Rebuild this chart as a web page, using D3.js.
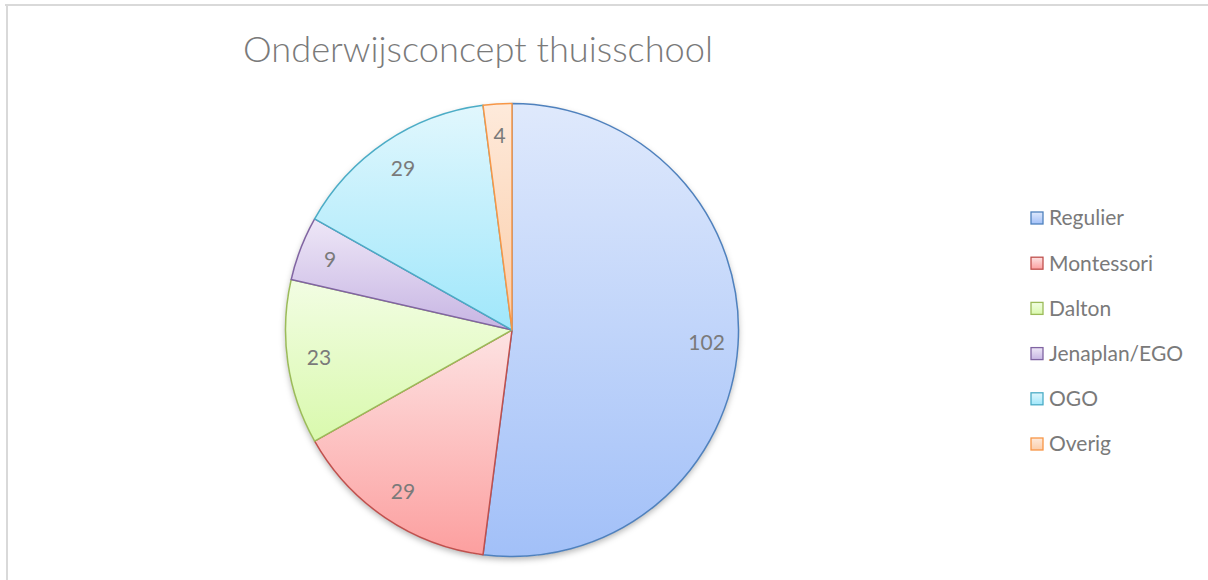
<!doctype html>
<html lang="nl">
<head>
<meta charset="utf-8" />
<title>Onderwijsconcept thuisschool</title>
<script src="https://cdn.jsdelivr.net/npm/d3@7"></script>
<style>
	html, body { margin: 0; padding: 0; background: #fff; }
	svg { display: block; font-family: Lato, "Open Sans", sans-serif; }
</style>
</head>
<body>
<div id="chart"></div>
<script>
	const categories = ["Regulier", "Montessori", "Dalton", "Jenaplan/EGO", "OGO", "Overig"];
	const values = [102, 29, 23, 9, 29, 4];
	const strokes = ["#4f81bd", "#c0504d", "#9bbb59", "#8064a2", "#4bacc6", "#f79646"];
	const fillTop = ["#dfe9fc", "#fde3e3", "#f2fde3", "#eee7f7", "#e1f7fd", "#feeadb"];
	const fillBottom = ["#a2c0f8", "#fc9f9f", "#d9f9ad", "#c7b5e3", "#a0e7fb", "#fbcda9"];

	const W = 1208, H = 580;
	const CX = 512, CY = 330, R = 226.5;
	const LABEL_R = 195;

	const svg = d3.select("#chart").append("svg").attr("width", W).attr("height", H);
	const defs = svg.append("defs");

	// chart frame (only top and left edges are visible in the crop)
	svg.append("line").attr("x1", 5).attr("x2", W).attr("y1", 5).attr("y2", 5)
		.attr("stroke", "#d9d9d9").attr("stroke-width", 2);
	svg.append("line").attr("x1", 7).attr("x2", 7).attr("y1", 4).attr("y2", H)
		.attr("stroke", "#d9d9d9").attr("stroke-width", 2);

	svg.append("text").attr("x", 243).attr("y", 62)
		.attr("font-size", 35).attr("font-weight", 300).attr("fill", "#7a7a7a")
		.attr("textLength", 470).attr("lengthAdjust", "spacingAndGlyphs")
		.text("Onderwijsconcept thuisschool");

	categories.forEach((c, i) => {
		const g = defs.append("linearGradient").attr("id", "grad" + i)
			.attr("x1", 0).attr("y1", 0).attr("x2", 0).attr("y2", 1);
		g.append("stop").attr("offset", "0%").attr("stop-color", fillTop[i]);
		g.append("stop").attr("offset", "100%").attr("stop-color", fillBottom[i]);
	});

	const shadow = defs.append("filter").attr("id", "shadow")
		.attr("x", "-10%").attr("y", "-10%").attr("width", "120%").attr("height", "125%");
	shadow.append("feDropShadow").attr("dx", 0).attr("dy", 3).attr("stdDeviation", 3)
		.attr("flood-color", "#000").attr("flood-opacity", 0.3);

	const pie = d3.pie().sort(null).value((d) => d.value);
	const data = pie(categories.map((c, i) => ({ name: c, value: values[i], i })));
	const arc = d3.arc().innerRadius(0).outerRadius(R);
	const labelArc = d3.arc().innerRadius(LABEL_R).outerRadius(LABEL_R);

	const g = svg.append("g").attr("transform", `translate(${CX},${CY})`);
	g.append("circle").attr("r", R).attr("fill", "#fff").attr("filter", "url(#shadow)");

	g.selectAll("path.slice").data(data).join("path").attr("class", "slice")
		.attr("d", arc)
		.attr("fill", (d) => `url(#grad${d.data.i})`)
		.attr("stroke", (d) => strokes[d.data.i])
		.attr("stroke-width", 1.5)
		.attr("stroke-linejoin", "round");

	g.selectAll("text.lbl").data(data).join("text").attr("class", "lbl")
		.attr("transform", (d) => `translate(${labelArc.centroid(d)})`)
		.attr("text-anchor", "middle").attr("dy", "0.35em")
		.attr("font-size", 21).attr("fill", "#7a7a7a")
		.text((d) => d.data.value);

	const legend = svg.append("g").attr("transform", "translate(1031,218)");
	const item = legend.selectAll("g").data(categories).join("g")
		.attr("transform", (d, i) => `translate(0,${i * 45.2})`);
	item.append("rect").attr("x", 0).attr("y", -6).attr("width", 12).attr("height", 12)
		.attr("fill", (d, i) => `url(#grad${i})`)
		.attr("stroke", (d, i) => strokes[i]).attr("stroke-width", 1.3);
	item.append("text").attr("x", 18).attr("y", 0).attr("dy", "0.35em")
		.attr("font-size", 21).attr("fill", "#7a7a7a").text((d) => d);
</script>
</body>
</html>
